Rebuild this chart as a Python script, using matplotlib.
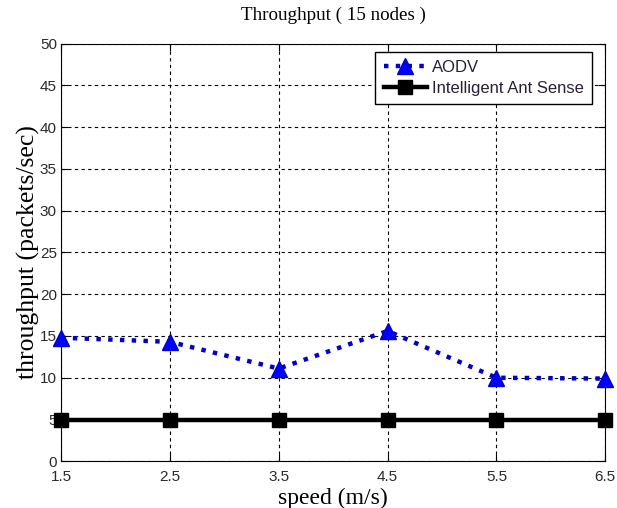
import matplotlib.pyplot as plt

speed = [1.5, 2.5, 3.5, 4.5, 5.5, 6.5]
aodv = [14.8, 14.3, 11.1, 15.6, 10.0, 9.9]
ant_sense = [5, 5, 5, 5, 5, 5]
y_ticks = list(range(0, 51, 5))

fig = plt.figure(figsize=(6.17, 5.08), dpi=100)
ax = fig.add_axes([0.099, 0.092, 0.882, 0.822])

ax.plot(speed, aodv, color='#0000cc', linestyle=':', linewidth=3.2,
        marker='^', markersize=11, markerfacecolor='#0000ff',
        markeredgecolor='#0000cc', label='AODV', clip_on=False, zorder=3)
ax.plot(speed, ant_sense, color='black', linestyle='-', linewidth=3.2,
        marker='s', markersize=10, markerfacecolor='black',
        label='Intelligent Ant Sense', clip_on=False, zorder=3)

ax.set_xlim(1.5, 6.5)
ax.set_ylim(0, 50)
ax.set_xticks(speed)
ax.set_xticklabels([str(s) for s in speed])
ax.set_yticks(y_ticks)
ax.grid(True, color='black', linestyle=(0, (3, 3)), linewidth=0.8)
ax.tick_params(direction='in', top=True, right=True, length=5, labelsize=11)
ax.tick_params(axis='x', pad=6)
ax.tick_params(axis='y', pad=3)
for lbl in ax.get_xticklabels() + ax.get_yticklabels():
    lbl.set_fontfamily('Liberation Sans')
    lbl.set_color('#2a2a2a')

ax.set_title('Throughput ( 15 nodes )', family='Liberation Serif', fontsize=13.7, pad=17)
ax.set_xlabel('speed (m/s)', family='Liberation Serif', fontsize=17, labelpad=3)
ax.set_ylabel('throughput (packets/sec)', family='Liberation Serif', fontsize=18.5, labelpad=0)

leg = ax.legend(loc='upper right', bbox_to_anchor=(0.976, 0.981), borderaxespad=0,
                prop={'family': 'Liberation Sans', 'size': 12},
                fancybox=False, framealpha=1, edgecolor='black',
                handlelength=2.6, handletextpad=0.3, borderpad=0.5, labelspacing=0.35)
leg.get_frame().set_linewidth(1.0)
for txt in leg.get_texts():
    txt.set_color('#2a2035')

fig.savefig('out.png', dpi=100)
